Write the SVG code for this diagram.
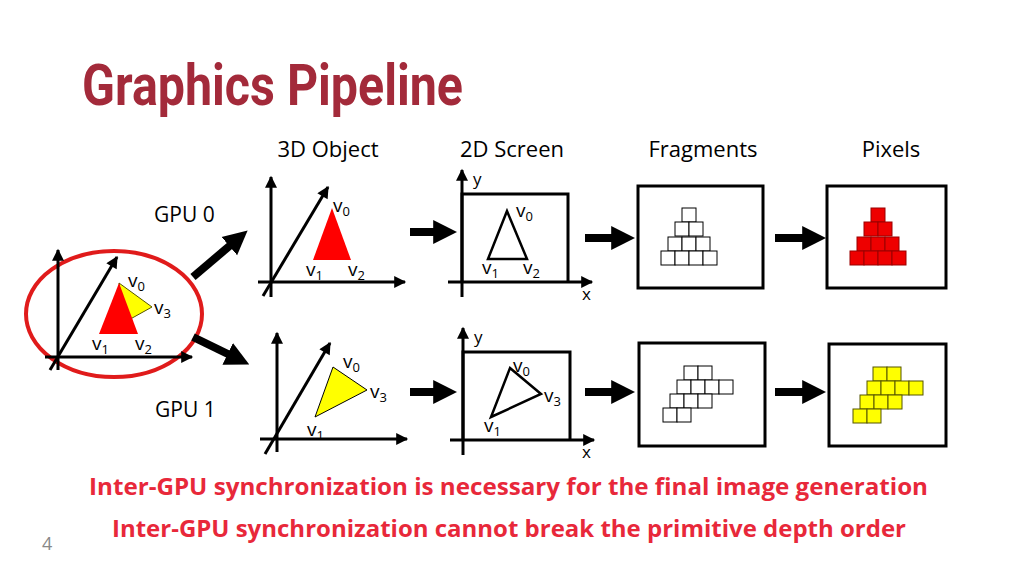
<svg xmlns="http://www.w3.org/2000/svg" width="1024" height="576" viewBox="0 0 1024 576">
<style>
.ax{stroke:#000;stroke-width:3;fill:none}
.t{font-family:"Open Sans","Liberation Sans",sans-serif;fill:#000}
.lb{font-family:"Open Sans","Liberation Sans",sans-serif;font-size:19px;fill:#000}
.sb{font-size:13px}
.fr{fill:#fff;stroke:#000;stroke-width:1}
.rd{fill:#e00;stroke:#900;stroke-width:1}
.yl{fill:#ff0;stroke:#550;stroke-width:1}
.box{fill:#fff;stroke:#000;stroke-width:3}
.big{stroke:#000;stroke-width:8;fill:none}
.rt{font-family:"Open Sans","Liberation Sans",sans-serif;font-weight:bold;font-size:24px;fill:#e8283a}
</style>
<defs>
<marker id="ah2" viewBox="0 0 10 10" refX="2" refY="5" markerWidth="3" markerHeight="3.4" orient="auto"><path d="M0,0L10,5L0,10z"/></marker>
<marker id="ax" viewBox="0 0 10 10" refX="9" refY="5" markerWidth="16" markerHeight="12" markerUnits="userSpaceOnUse" orient="auto"><path d="M0,0L10,5L0,10z"/></marker>
</defs>
<rect width="1024" height="576" fill="#fff"/>
<text x="82" y="105" font-family="Roboto,'Liberation Sans',sans-serif" font-weight="bold" font-size="58" fill="#a32a3a" textLength="381" lengthAdjust="spacingAndGlyphs">Graphics Pipeline</text>
<g id="headers" class="t" font-size="22" text-anchor="middle">
<text x="328" y="157">3D Object</text><text x="512" y="157">2D Screen</text><text x="703" y="157">Fragments</text><text x="891" y="157">Pixels</text>
</g>
<g id="gpu-labels" class="t" font-size="21"><text x="154" y="222">GPU 0</text><text x="155" y="417">GPU 1</text></g>
<g id="source">
<ellipse cx="114" cy="314" rx="88" ry="63" fill="none" stroke="#e01b1b" stroke-width="4"/>
<line class="ax" x1="58" y1="370" x2="58" y2="250" marker-end="url(#ax)"/>
<line class="ax" x1="45" y1="357" x2="192" y2="357" marker-end="url(#ax)"/>
<line class="ax" x1="50" y1="370" x2="117" y2="257" marker-end="url(#ax)"/>
<polygon points="119,283 152,307 125,322" fill="#ff0" stroke="#550" stroke-width="1"/>
<polygon points="119,283 99,334 138,334" fill="#f00"/>
<text class="lb" x="128" y="287">v<tspan class="sb" dy="4">0</tspan></text>
<text class="lb" x="154" y="314">v<tspan class="sb" dy="4">3</tspan></text>
<text class="lb" x="92" y="350">v<tspan class="sb" dy="4">1</tspan></text>
<text class="lb" x="135" y="350">v<tspan class="sb" dy="4">2</tspan></text>
</g>
<g id="obj0">
<line class="ax" x1="271" y1="297" x2="271" y2="177" marker-end="url(#ax)"/>
<line class="ax" x1="258" y1="282" x2="405" y2="282" marker-end="url(#ax)"/>
<line class="ax" x1="263" y1="296" x2="328" y2="187" marker-end="url(#ax)"/>
<polygon points="332,208 313,260 351,260" fill="#f00"/>
<text class="lb" x="333" y="212">v<tspan class="sb" dy="4">0</tspan></text>
<text class="lb" x="306" y="276">v<tspan class="sb" dy="4">1</tspan></text>
<text class="lb" x="348" y="276">v<tspan class="sb" dy="4">2</tspan></text>
</g>
<g id="obj1">
<line class="ax" x1="277" y1="452" x2="277" y2="333" marker-end="url(#ax)"/>
<line class="ax" x1="260" y1="439" x2="407" y2="439" marker-end="url(#ax)"/>
<line class="ax" x1="265" y1="454" x2="330" y2="343" marker-end="url(#ax)"/>
<polygon points="333,367 367,390 315,417" fill="#ff0" stroke="#000" stroke-width="1"/>
<text class="lb" x="343" y="368">v<tspan class="sb" dy="4">0</tspan></text>
<text class="lb" x="370" y="398">v<tspan class="sb" dy="4">3</tspan></text>
<text class="lb" x="307" y="436">v<tspan class="sb" dy="4">1</tspan></text>
</g>
<g id="screen0">
<polyline points="462,282 462,194 568,194 568,282" class="ax"/>
<line class="ax" x1="462" y1="297" x2="462" y2="170" marker-end="url(#ax)"/>
<line class="ax" x1="448" y1="282" x2="592" y2="282" marker-end="url(#ax)"/>
<polygon points="507,211 488,259 527,259" fill="none" stroke="#000" stroke-width="2.5"/>
<text class="t" font-size="17" x="473" y="185">y</text><text class="t" font-size="17" x="582" y="300">x</text>
<text class="lb" x="516" y="217" font-size="16">v<tspan class="sb" font-size="11" dy="4">0</tspan></text>
<text class="lb" x="482" y="274" font-size="16">v<tspan class="sb" font-size="11" dy="4">1</tspan></text>
<text class="lb" x="523" y="274" font-size="16">v<tspan class="sb" font-size="11" dy="4">2</tspan></text>
</g>
<g id="screen1">
<polyline points="463,440 463,352 570,352 570,440" class="ax"/>
<line class="ax" x1="463" y1="455" x2="463" y2="328" marker-end="url(#ax)"/>
<line class="ax" x1="450" y1="440" x2="594" y2="440" marker-end="url(#ax)"/>
<polygon points="510,368 541,394 491,417" fill="none" stroke="#000" stroke-width="2.5"/>
<text class="t" font-size="17" x="474" y="343">y</text><text class="t" font-size="17" x="582" y="458">x</text>
<text class="lb" x="513" y="372" font-size="16">v<tspan class="sb" font-size="11" dy="4">0</tspan></text>
<text class="lb" x="544" y="402" font-size="16">v<tspan class="sb" font-size="11" dy="4">3</tspan></text>
<text class="lb" x="484" y="432" font-size="16">v<tspan class="sb" font-size="11" dy="4">1</tspan></text>
</g>
<g id="frag0">
<rect class="box" x="638" y="186" width="125" height="102"/>
<g class="fr">
<rect x="682" y="208" width="14" height="14"/>
<rect x="675" y="222" width="14" height="14"/><rect x="689" y="222" width="14" height="14"/>
<rect x="668" y="237" width="14" height="14"/><rect x="682" y="237" width="14" height="14"/><rect x="696" y="237" width="14" height="14"/>
<rect x="661" y="251" width="14" height="14"/><rect x="675" y="251" width="14" height="14"/><rect x="689" y="251" width="14" height="14"/><rect x="703" y="251" width="14" height="14"/>
</g></g>
<g id="pix0">
<rect class="box" x="827" y="186" width="119" height="102"/>
<g class="rd">
<rect x="871" y="208" width="14" height="14"/>
<rect x="864" y="222" width="14" height="14"/><rect x="878" y="222" width="14" height="14"/>
<rect x="857" y="237" width="14" height="14"/><rect x="871" y="237" width="14" height="14"/><rect x="885" y="237" width="14" height="14"/>
<rect x="850" y="251" width="14" height="14"/><rect x="864" y="251" width="14" height="14"/><rect x="878" y="251" width="14" height="14"/><rect x="892" y="251" width="14" height="14"/>
</g></g>
<g id="frag1">
<rect class="box" x="639" y="343" width="126" height="103"/>
<g class="fr">
<rect x="684" y="366" width="14" height="14"/><rect x="698" y="366" width="14" height="14"/>
<rect x="677" y="380" width="14" height="14"/><rect x="691" y="380" width="14" height="14"/><rect x="705" y="380" width="14" height="14"/><rect x="719" y="380" width="14" height="14"/>
<rect x="670" y="394" width="14" height="14"/><rect x="684" y="394" width="14" height="14"/><rect x="698" y="394" width="14" height="14"/>
<rect x="663" y="408" width="14" height="14"/><rect x="677" y="408" width="14" height="14"/>
</g></g>
<g id="pix1">
<rect class="box" x="829" y="344" width="117" height="102"/>
<g class="yl">
<rect x="873" y="367" width="14" height="14"/><rect x="887" y="367" width="14" height="14"/>
<rect x="867" y="381" width="14" height="14"/><rect x="881" y="381" width="14" height="14"/><rect x="895" y="381" width="14" height="14"/><rect x="909" y="381" width="14" height="14"/>
<rect x="860" y="395" width="14" height="14"/><rect x="874" y="395" width="14" height="14"/><rect x="888" y="395" width="14" height="14"/>
<rect x="853" y="409" width="14" height="14"/><rect x="867" y="409" width="14" height="14"/>
</g></g>
<g id="connectors">
<line class="big" x1="193" y1="277" x2="233" y2="243" marker-end="url(#ah2)"/>
<line class="big" x1="193" y1="337" x2="232" y2="356" marker-end="url(#ah2)"/>
<line class="big" x1="410" y1="232" x2="438" y2="232" marker-end="url(#ah2)"/>
<line class="big" x1="585" y1="238" x2="616" y2="238" marker-end="url(#ah2)"/>
<line class="big" x1="775" y1="238" x2="807" y2="238" marker-end="url(#ah2)"/>
<line class="big" x1="410" y1="392" x2="438" y2="392" marker-end="url(#ah2)"/>
<line class="big" x1="585" y1="392" x2="616" y2="392" marker-end="url(#ah2)"/>
<line class="big" x1="775" y1="392" x2="807" y2="392" marker-end="url(#ah2)"/>
</g>
<text class="rt" x="89" y="495" textLength="839" lengthAdjust="spacingAndGlyphs">Inter-GPU synchronization is necessary for the final image generation</text>
<text class="rt" x="112" y="537" textLength="794" lengthAdjust="spacingAndGlyphs">Inter-GPU synchronization cannot break the primitive depth order</text>
<text x="42" y="550" font-family="'Open Sans',sans-serif" font-size="18" fill="#888">4</text>
</svg>
